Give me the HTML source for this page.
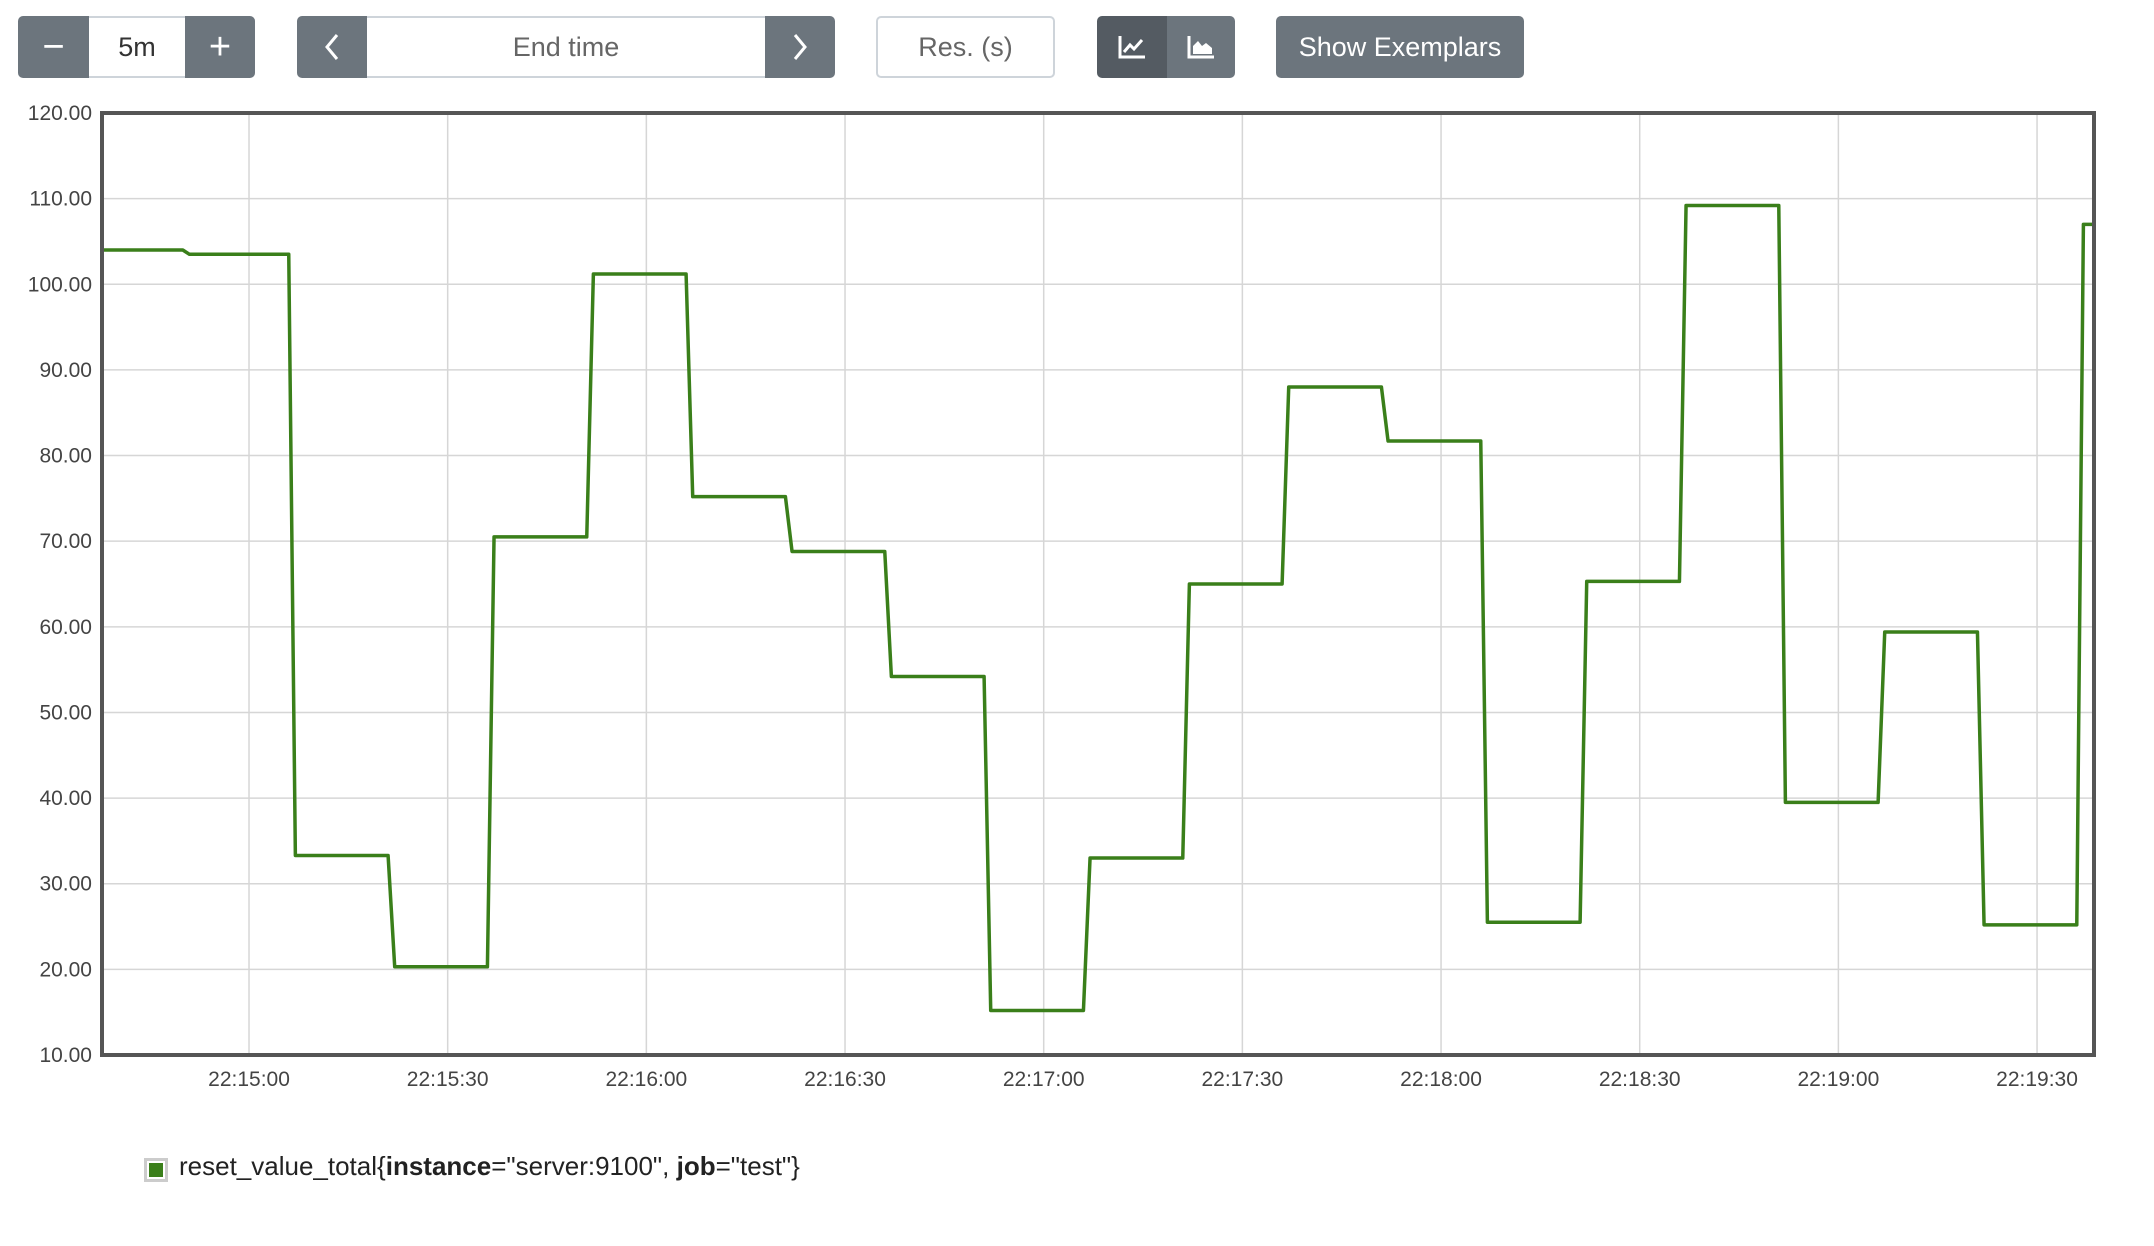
<!DOCTYPE html>
<html><head><meta charset="utf-8"><style>
body{margin:0;width:2154px;height:1246px;background:#fff;font-family:"Liberation Sans",sans-serif;position:relative;overflow:hidden}
.b{position:absolute;top:16px;height:62px;box-sizing:border-box;display:flex;align-items:center;justify-content:center;font-size:27px;color:#fff;background:#6c757d}
.f{background:#fff;color:#495057;border-top:2px solid #ced4da;border-bottom:2px solid #ced4da}
</style></head><body>
<div class="b" style="left:18px;width:71px;border-radius:5px 0 0 5px;font-size:38px">−</div>
<div class="b f" style="left:89px;width:96px;color:#333">5m</div>
<div class="b" style="left:185px;width:70px;border-radius:0 5px 5px 0;font-size:38px">+</div>
<div class="b" style="left:297px;width:70px;border-radius:5px 0 0 5px"><svg width="20" height="30"><path d="M15 3L5 15L15 27" stroke="#fff" stroke-width="3" fill="none"/></svg></div>
<div class="b f" style="left:367px;width:398px;color:#666">End time</div>
<div class="b" style="left:765px;width:70px;border-radius:0 5px 5px 0"><svg width="20" height="30"><path d="M5 3L15 15L5 27" stroke="#fff" stroke-width="3" fill="none"/></svg></div>
<div class="b f" style="left:876px;width:179px;color:#666;border:2px solid #ced4da;border-radius:5px">Res. (s)</div>
<div class="b" style="left:1097px;width:70px;background:#545b62;border-radius:5px 0 0 5px"><svg width="30" height="26"><path d="M3 2V23H28" stroke="#fff" stroke-width="3" fill="none"/><path d="M7 18L13 11L17 15L25 6" stroke="#fff" stroke-width="3" fill="none"/></svg></div>
<div class="b" style="left:1167px;width:68px;border-radius:0 5px 5px 0"><svg width="30" height="26"><path d="M3 2V23H28" stroke="#fff" stroke-width="3" fill="none"/><path d="M7 20V12L12 7L16 12L20 9L26 14V20Z" fill="#fff"/></svg></div>
<div class="b" style="left:1276px;width:248px;border-radius:5px">Show Exemplars</div>
<svg id="c" width="2154" height="1246" style="position:absolute;left:0;top:0"></svg>
<div style="position:absolute;left:144px;top:1158px;width:18px;height:18px;border:3px solid #ccc;box-sizing:content-box"><div style="margin:2px;width:14px;height:14px;background:#3a7f1a"></div></div>
<div style="position:absolute;left:179px;top:1151px;font-size:26px;color:#222">reset_value_total{<b>instance</b>="server:9100", <b>job</b>="test"}</div>
<script>
const times=[-23,-9,7,22,37,52,67,82,97,112,127,142,157,172,187,202,217,232,247,262,277];
const values=[104,103.5,33.3,20.3,70.5,101.2,75.2,68.8,54.2,15.2,33,65,88,81.7,25.5,65.3,109.2,39.5,59.4,25.2,107];
const yTicks=[10,20,30,40,50,60,70,80,90,100,110,120];
const xTickSecs=[0,30,60,90,120,150,180,210,240,270];
const xTickLabels=["22:15:00","22:15:30","22:16:00","22:16:30","22:17:00","22:17:30","22:18:00","22:18:30","22:19:00","22:19:30"];
const L=102,R=2094,T=113,B=1055,t0=-22.2,t1=278.6;
const xs=t=>L+(t-t0)/(t1-t0)*(R-L);
const ys=v=>B-(v-10)/110*(B-T);
const svg=document.getElementById('c'),NS='http://www.w3.org/2000/svg';
function mk(tag,a,txt){const e=document.createElementNS(NS,tag);for(const k in a)e.setAttribute(k,a[k]);if(txt!=null)e.textContent=txt;svg.appendChild(e);return e;}
yTicks.forEach(v=>{
 const g=mk('line',{x1:L,x2:R,y1:ys(v),y2:ys(v),stroke:'#d6d6d6','stroke-width':1.5});
 
 
 const t=mk('text',{x:92,y:ys(v)+7,'text-anchor':'end','font-size':21,fill:'#444','font-family':'Liberation Sans, sans-serif'},v.toFixed(2));
 
 
});
xTickSecs.forEach((s,i)=>{
 const g=mk('line',{x1:xs(s),x2:xs(s),y1:T,y2:B,stroke:'#d6d6d6','stroke-width':1.5});
 
 
 const t=mk('text',{x:xs(s),y:1086,'text-anchor':'middle','font-size':21,fill:'#444','font-family':'Liberation Sans, sans-serif'},xTickLabels[i]);
 
 
});
mk('clipPath',{id:'cp'}).innerHTML='<rect x="'+L+'" y="'+T+'" width="'+(R-L)+'" height="'+(B-T)+'"/>';
let pts=[];
for(let i=0;i<times.length;i++){
 const end=i<times.length-1?times[i+1]-1:t1+5;
 pts.push(xs(times[i])+','+ys(values[i]));
 pts.push(xs(end)+','+ys(values[i]));
}
const line=mk('polyline',{points:pts.join(' '),fill:'none',stroke:'#3a7f1a','stroke-width':3.5,'clip-path':'url(#cp)','stroke-linejoin':'round'});


const box=mk('rect',{x:L,y:T,width:R-L,height:B-T,fill:'none',stroke:'#555','stroke-width':4});


</script>
</body></html>
